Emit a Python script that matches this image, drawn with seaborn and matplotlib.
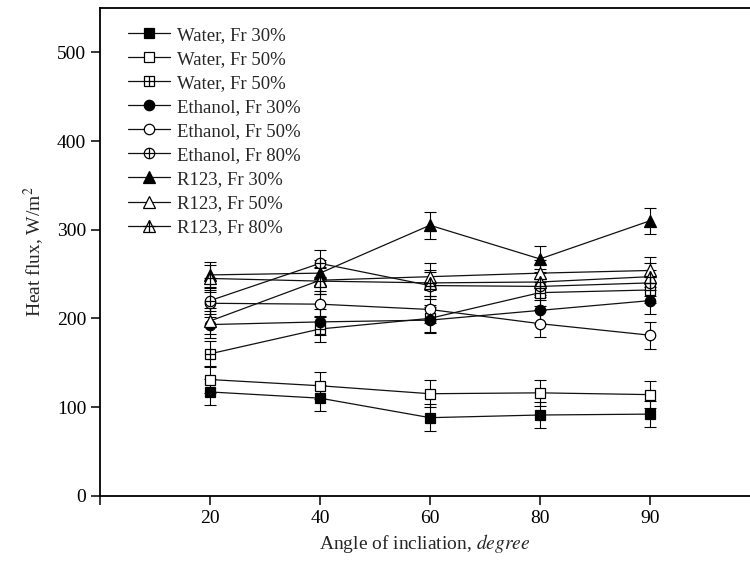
import numpy as np
import pandas as pd
import matplotlib
matplotlib.use("Agg")
import matplotlib.pyplot as plt
import seaborn as sns
from matplotlib.lines import Line2D
from matplotlib.legend_handler import HandlerTuple

sns.set_style('ticks')
plt.rcParams['font.family'] = ['Liberation Serif', 'DejaVu Serif']
plt.rcParams['mathtext.fontset'] = 'stix'

angles = ['20', '40', '60', '80', '90']

water_30 = [117, 110, 88, 91, 92]
water_50 = [131, 124, 115, 116, 114]
water_50b = [160, 188, 200, 229, 232]
ethanol_30 = [193, 196, 198, 209, 220]
ethanol_50 = [217, 216, 210, 194, 181]
ethanol_80 = [220, 262, 237, 236, 240]
r123_30 = [249, 251, 305, 267, 310]
r123_50 = [197, 243, 247, 251, 254]
r123_80 = [245, 242, 240, 241, 247]

# error bars look about the same size everywhere
err = [15, 15, 15, 15, 15]

labels = ['Water, Fr 30%', 'Water, Fr 50%', 'Water, Fr 50%',
          'Ethanol, Fr 30%', 'Ethanol, Fr 50%', 'Ethanol, Fr 80%',
          'R123, Fr 30%', 'R123, Fr 50%', 'R123, Fr 80%']
series = [water_30, water_50, water_50b, ethanol_30, ethanol_50, ethanol_80,
          r123_30, r123_50, r123_80]
# (marker, filled, plus overlay)
styles = [('s', True, False), ('s', False, False), ('s', False, True),
          ('o', True, False), ('o', False, False), ('o', False, True),
          ('^', True, False), ('^', False, False), ('^', False, True)]

fig = plt.figure(figsize=(7.5, 5.64), dpi=100)
ax = fig.add_axes([100 / 750, 68.3 / 564, 650 / 750, 487.7 / 564])

pos = np.arange(len(angles))
handles = []
for lab, vals, (mk, filled, plus) in zip(labels, series, styles):
    ms = 8.5 if mk == '^' else 7.5
    fc = 'black' if filled else 'white'
    ax.errorbar(pos, vals, yerr=err, fmt='none', ecolor='black',
                elinewidth=0.8, capsize=4.5, capthick=0.8, zorder=1)
    df = pd.DataFrame({'x': pos, 'y': vals})
    sns.lineplot(data=df, x='x', y='y', ax=ax, color='#111111', lw=0.9,
                 marker=mk, markersize=ms, markerfacecolor=fc,
                 markeredgecolor='black', markeredgewidth=0.9, zorder=2)
    h = Line2D([], [], color='#111111', lw=0.9, marker=mk, markersize=ms,
               markerfacecolor=fc, markeredgecolor='black', markeredgewidth=0.9)
    if plus:
        ax.plot(pos, vals, ls='none', marker='+', markersize=ms,
                markeredgewidth=0.9, color='black', zorder=3)
        hp = Line2D([], [], ls='none', marker='+', markersize=ms,
                    markeredgewidth=0.9, color='black')
        handles.append((h, hp))
    else:
        handles.append(h)

ax.set_xlim(-1, 4.91)
ax.set_ylim(0, 550)
ax.set_xticks([-1] + list(pos))
ax.set_xticklabels([''] + angles)
ax.set_yticks([0, 100, 200, 300, 400, 500])
ax.tick_params(direction='out', length=6.5, width=1.1, labelsize=14, colors='black')
for s in ['left', 'bottom', 'top']:
    ax.spines[s].set_linewidth(1.3)
    ax.spines[s].set_color('black')
ax.spines['right'].set_visible(False)

ax.set_xlabel(r'Angle of incliation, $\mathit{degree}$', fontsize=14, labelpad=4)
ax.set_ylabel(r'Heat flux, W/m$^2$', fontsize=14, labelpad=8)

ax.legend(handles, labels, loc='upper left', bbox_to_anchor=(0.043, 0.962),
          frameon=False, fontsize=13.5, borderpad=0, borderaxespad=0,
          handlelength=2.24, handletextpad=0.37, labelspacing=0.37,
          handler_map={tuple: HandlerTuple(ndivide=1, pad=0)})

fig.savefig('out.png', dpi=100)
